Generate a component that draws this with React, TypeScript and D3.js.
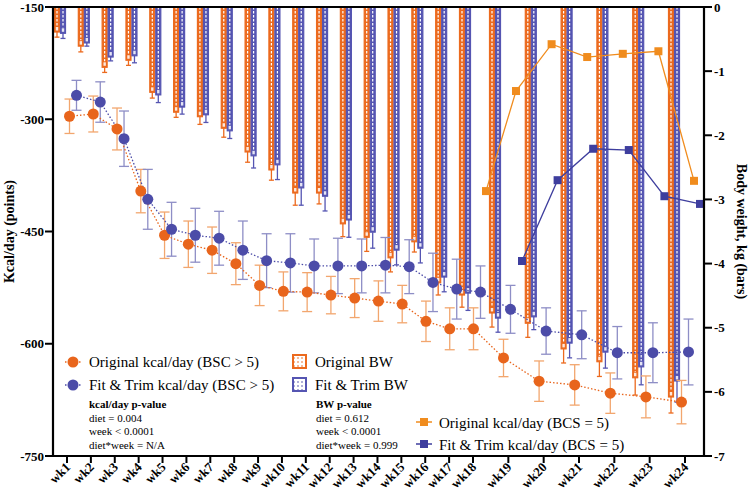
import React from 'react';
import * as d3 from 'd3';

const weeks = ['wk1','wk2','wk3','wk4','wk5','wk6','wk7','wk8','wk9','wk10','wk11','wk12','wk13','wk14','wk15','wk16','wk17','wk18','wk19','wk20','wk21','wk22','wk23','wk24'];

// kcal/day (points, left axis)
const origKcal = [-296,-293,-313,-396,-455,-467,-475,-493,-522,-530,-531,-535,-539,-543,-547,-570,-580,-580,-619,-650,-655,-666,-671,-678];
const origKcalErr = [23,24,28,29,31,31,31,28,27,26,26,25,26,27,25,27,28,28,25,27,27,27,28,29];
const fitKcal = [-268,-277,-326,-407,-447,-455,-459,-475,-489,-492,-496,-496,-496,-495,-497,-518,-527,-531,-554,-583,-588,-612,-612,-611];
const fitKcalErr = [20,27,37,40,36,36,36,39,36,39,36,37,36,37,36,39,40,35,32,31,32,35,40,44];

// body weight change, kg (bars, right axis)
const origBW = [-0.39,-0.61,-0.94,-0.83,-1.33,-1.64,-1.71,-1.89,-2.26,-2.54,-2.90,-2.90,-3.38,-3.59,-3.91,-3.66,-4.30,-4.49,-4.77,-4.93,-5.33,-5.53,-5.78,-6.08];
const origBWErr = [0.08,0.09,0.08,0.08,0.09,0.08,0.12,0.14,0.16,0.16,0.19,0.17,0.2,0.22,0.22,0.16,0.19,0.19,0.22,0.22,0.22,0.23,0.27,0.25];
const fitBW = [-0.41,-0.56,-0.78,-0.76,-1.37,-1.56,-1.68,-1.93,-2.32,-2.46,-2.82,-2.95,-3.32,-3.51,-3.79,-3.76,-4.21,-4.46,-4.85,-4.83,-5.24,-5.38,-5.61,-5.83];
const fitBWErr = [0.08,0.05,0.06,0.11,0.12,0.11,0.12,0.12,0.19,0.23,0.27,0.23,0.27,0.25,0.23,0.23,0.23,0.27,0.22,0.2,0.23,0.25,0.28,0.33];

// kcal/day (BCS = 5) squares, drawn against right axis
const origBCS5Weeks = [18,19,20,21,22,23,24];
const origBCS5 = [-2.87,-1.31,-0.58,-0.78,-0.73,-0.69,-2.71];
const fitBCS5Weeks = [19,20,21,22,23,24];
const fitBCS5 = [-3.96,-2.70,-2.21,-2.23,-2.95,-3.07];

const leftTicks = [-150,-300,-450,-600,-750];
const rightTicks = [0,-1,-2,-3,-4,-5,-6,-7];

const C_OR = '#E8651C';
const C_BL = '#4C4CA8';
const C_OR_BAR = '#EC6A1E';
const C_BL_BAR = '#5555B2';
const C_OR_ERR = '#F2A66E';
const C_BL_ERR = '#8E8EC6';
const C_OR_SQ = '#F08C1E';
const C_BL_SQ = '#3E3E9E';
const FONT = '"Liberation Serif", "Times New Roman", serif';

export default function App() {
  const L = 53, R = 704, T = 7, B = 456;
  const yL = d3.scaleLinear().domain([-150, -750]).range([T, B]);
  const yR = d3.scaleLinear().domain([0, -7]).range([T, B]);
  const xTick = d3.scaleLinear().domain([1, 18, 24]).range([67, 473, 685]);
  const xBar = d3.scaleLinear().domain([1, 18, 19, 24]).range([60, 465, 495, 674]);
  const xDot = d3.scaleLinear().domain([1, 18, 19, 24]).range([73, 477, 507, 685]);
  const xSq = d3.scaleLinear().domain([18, 19, 24]).range([489, 519, 697]);

  const bw = 5;
  const idx = weeks.map((_, i) => i + 1);

  const dotLine = (vals: number[], off: number) =>
    d3.line<number>().x((_, i) => xDot(i + 1) + off).y(v => yL(v))(vals) || '';
  const sqLine = (wks: number[], vals: number[], off: number) =>
    d3.line<number>().x((_, i) => xSq(wks[i]) + off).y(v => yR(v))(vals) || '';

  const bars = (vals: number[], errs: number[], off: number, col: string) =>
    vals.map((v, i) => {
      const x = xBar(i + 1) + off;
      const y1 = yR(v);
      const y2 = yR(v - errs[i]);
      return (
        <g key={i}>
          <line x1={x} x2={x} y1={y1} y2={y2} stroke={col} strokeWidth={1.3} />
          <line x1={x - 2.5} x2={x + 2.5} y1={y2} y2={y2} stroke={col} strokeWidth={1.3} />
          <rect x={x - bw / 2} y={T} width={bw} height={y1 - T} fill={col} stroke={col} strokeWidth={1.2} />
          <line x1={x} x2={x} y1={T} y2={y1 - 6} stroke="#fff" strokeWidth={1.2} strokeDasharray="2.5,1.5" />
          <rect x={x - 1.2} y={y1 - 5} width={2.4} height={3.5} fill="#fff" opacity={0.85} />
        </g>
      );
    });

  const dots = (vals: number[], errs: number[], off: number, ecol: string) =>
    vals.map((v, i) => {
      const x = xDot(i + 1) + off;
      return (
        <g key={i}>
          <line x1={x} x2={x} y1={yL(v + errs[i])} y2={yL(v - errs[i])} stroke={ecol} strokeWidth={1.3} />
          <line x1={x - 5} x2={x + 5} y1={yL(v + errs[i])} y2={yL(v + errs[i])} stroke={ecol} strokeWidth={1.3} />
          <line x1={x - 5} x2={x + 5} y1={yL(v - errs[i])} y2={yL(v - errs[i])} stroke={ecol} strokeWidth={1.3} />
        </g>
      );
    });

  const txt = { fontFamily: FONT, fill: '#000' } as const;

  return (
    <svg width={750} height={498} style={{ position: 'absolute', left: 0, top: 0, background: '#fff' }}>
      <defs>
        <pattern id="dotsOr" width="4" height="4" patternUnits="userSpaceOnUse">
          <rect width="4" height="4" fill="#fff" />
          <circle cx="2" cy="2" r="0.8" fill={C_OR} />
        </pattern>
        <pattern id="dotsBl" width="4" height="4" patternUnits="userSpaceOnUse">
          <rect width="4" height="4" fill="#fff" />
          <circle cx="2" cy="2" r="0.8" fill={C_BL} />
        </pattern>
      </defs>
      <rect x={0} y={0} width={750} height={498} fill="#fff" />

      {/* bars */}
      <g>{bars(origBW, origBWErr, -3, C_OR_BAR)}</g>
      <g>{bars(fitBW, fitBWErr, 3, C_BL_BAR)}</g>

      {/* kcal points */}
      <g>{dots(origKcal, origKcalErr, -3.5, C_OR_ERR)}</g>
      <g>{dots(fitKcal, fitKcalErr, 3.5, C_BL_ERR)}</g>
      <path d={dotLine(origKcal, -3.5)} fill="none" stroke={C_OR} strokeWidth={1.3} strokeDasharray="1.5,2" />
      <path d={dotLine(fitKcal, 3.5)} fill="none" stroke={C_BL} strokeWidth={1.3} strokeDasharray="1.5,2" />
      {origKcal.map((v, i) => <circle key={'o' + i} cx={xDot(i + 1) - 3.5} cy={yL(v)} r={5.5} fill={C_OR} />)}
      {fitKcal.map((v, i) => <circle key={'b' + i} cx={xDot(i + 1) + 3.5} cy={yL(v)} r={5.5} fill={C_BL} />)}

      {/* BCS = 5 squares */}
      <path d={sqLine(origBCS5Weeks, origBCS5, -3)} fill="none" stroke={C_OR_SQ} strokeWidth={1.3} />
      <path d={sqLine(fitBCS5Weeks, fitBCS5, 3)} fill="none" stroke={C_BL_SQ} strokeWidth={1.3} />
      {origBCS5.map((v, i) => <rect key={'so' + i} x={xSq(origBCS5Weeks[i]) - 3 - 4} y={yR(v) - 4} width={8} height={8} fill={C_OR_SQ} />)}
      {fitBCS5.map((v, i) => <rect key={'sb' + i} x={xSq(fitBCS5Weeks[i]) + 3 - 4} y={yR(v) - 4} width={8} height={8} fill={C_BL_SQ} />)}

      {/* axes */}
      <line x1={L} x2={R} y1={T} y2={T} stroke="#000" strokeWidth={2} />
      <line x1={L} x2={R} y1={B} y2={B} stroke="#000" strokeWidth={2} />
      <line x1={L} x2={L} y1={T - 1} y2={B + 1} stroke="#000" strokeWidth={2.2} />
      <line x1={R} x2={R} y1={T - 1} y2={B + 1} stroke="#000" strokeWidth={2.2} />
      {leftTicks.map(t => (
        <g key={'lt' + t}>
          <line x1={L - 8} x2={L} y1={yL(t)} y2={yL(t)} stroke="#000" strokeWidth={2} />
          <text x={L - 9} y={yL(t)} dy="0.35em" textAnchor="end" fontSize={13} fontWeight="bold" style={txt}>{t}</text>
        </g>
      ))}
      {rightTicks.map(t => (
        <g key={'rt' + t}>
          <line x1={R} x2={R + 8} y1={yR(t)} y2={yR(t)} stroke="#000" strokeWidth={2} />
          <text x={R + 10} y={yR(t)} dy="0.35em" textAnchor="start" fontSize={13} fontWeight="bold" style={txt}>{t}</text>
        </g>
      ))}
      {idx.map((w, i) => (
        <g key={'xt' + w}>
          <line x1={xTick(w)} x2={xTick(w)} y1={B} y2={B + 7} stroke="#000" strokeWidth={2} />
          <text transform={`translate(${xTick(w) + 4},${B + 12}) rotate(-45)`} textAnchor="end" fontSize={13} fontWeight="bold" style={txt}>{weeks[i]}</text>
        </g>
      ))}
      <text transform={`translate(14,${(T + B) / 2}) rotate(-90)`} textAnchor="middle" fontSize={14} fontWeight="bold" style={txt}>Kcal/day (points)</text>
      <text transform={`translate(737,${(T + B) / 2}) rotate(90)`} textAnchor="middle" fontSize={14} fontWeight="bold" style={txt}>Body weight, kg (bars)</text>

      {/* legend: kcal circles */}
      <line x1={65} x2={82} y1={362} y2={362} stroke={C_OR} strokeWidth={1.3} strokeDasharray="1.5,2" />
      <circle cx={73} cy={362} r={5.5} fill={C_OR} />
      <text x={89} y={367} fontSize={15} style={txt}>Original kcal/day (BSC &gt; 5)</text>
      <line x1={65} x2={82} y1={385} y2={385} stroke={C_BL} strokeWidth={1.3} strokeDasharray="1.5,2" />
      <circle cx={73} cy={385} r={5.5} fill={C_BL} />
      <text x={89} y={390} fontSize={15} style={txt}>Fit &amp; Trim kcal/day (BSC &gt; 5)</text>
      <text x={89} y={408} fontSize={11} fontWeight="bold" style={txt}>kcal/day p-value</text>
      <text x={89} y={421.5} fontSize={11} style={txt}>diet = 0.004</text>
      <text x={89} y={435} fontSize={11} style={txt}>week &lt; 0.0001</text>
      <text x={89} y={448.5} fontSize={11} style={txt}>diet*week = N/A</text>

      {/* legend: BW bars */}
      <rect x={293} y={355} width={13} height={13} fill="url(#dotsOr)" stroke={C_OR_BAR} strokeWidth={2} />
      <text x={315} y={367} fontSize={15} style={txt}>Original BW</text>
      <rect x={293} y={378} width={13} height={13} fill="url(#dotsBl)" stroke={C_BL_BAR} strokeWidth={2} />
      <text x={315} y={390} fontSize={15} style={txt}>Fit &amp; Trim BW</text>
      <text x={316} y={408} fontSize={11} fontWeight="bold" style={txt}>BW p-value</text>
      <text x={316} y={421.5} fontSize={11} style={txt}>diet = 0.612</text>
      <text x={316} y={435} fontSize={11} style={txt}>week &lt; 0.0001</text>
      <text x={316} y={448.5} fontSize={11} style={txt}>diet*week = 0.999</text>

      {/* legend: BCS = 5 squares */}
      <line x1={416} x2={432} y1={422} y2={422} stroke={C_OR_SQ} strokeWidth={1.5} />
      <rect x={420} y={418} width={8} height={8} fill={C_OR_SQ} />
      <text x={439} y={428} fontSize={15} style={txt}>Original kcal/day (BCS = 5)</text>
      <line x1={416} x2={432} y1={444} y2={444} stroke={C_BL_SQ} strokeWidth={1.5} />
      <rect x={420} y={440} width={8} height={8} fill={C_BL_SQ} />
      <text x={439} y={450} fontSize={15} style={txt}>Fit &amp; Trim kcal/day (BCS = 5)</text>
    </svg>
  );
}
